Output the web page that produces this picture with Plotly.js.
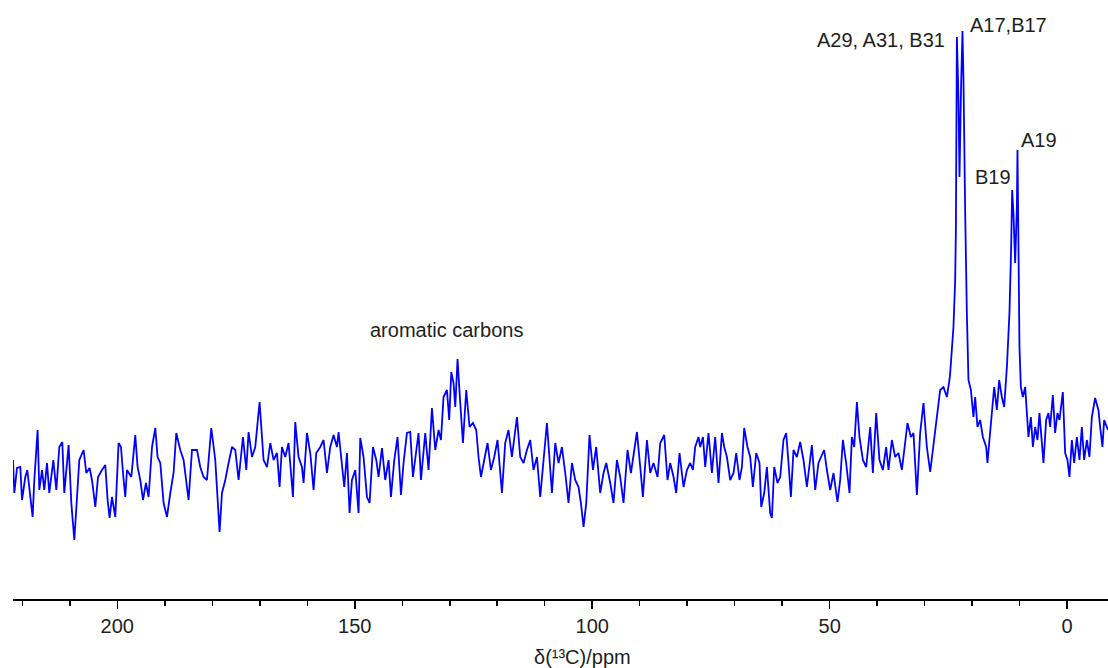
<!DOCTYPE html>
<html>
<head>
<meta charset="utf-8">
<script src="https://cdn.plot.ly/plotly-3.0.1.min.js"></script>
<style>html,body{margin:0;padding:0;background:#fff;}#chart{width:1108px;height:668px;}</style>
</head>
<body>
<div id="chart"></div>
<script>
// Chemical shift (ppm) and intensity (arbitrary units)
var shiftPpm = [
221.96,221.68,221.12,220.42,220.06,219.37,218.95,218.32,217.83,217.47,
216.78,216.42,215.85,215.37,214.80,214.32,213.47,212.84,212.21,211.58,
211.16,210.59,210.25,209.68,209.05,208.48,208.00,207.09,206.53,205.83,
205.33,204.63,204.06,203.22,202.53,202.04,201.62,201.12,200.42,199.73,
199.22,198.80,198.32,197.96,197.05,196.21,195.73,195.16,194.59,193.96,
193.41,192.69,192.00,191.52,190.95,190.25,189.54,188.84,188.15,187.58,
186.74,186.04,184.99,184.27,183.22,182.53,181.83,181.12,180.21,179.37,
178.88,178.46,177.96,177.26,176.57,175.85,175.16,174.46,173.54,172.84,
172.36,171.64,170.95,170.04,169.20,168.48,167.79,167.09,166.38,165.83,
165.33,164.63,163.94,163.01,162.53,161.83,161.12,160.78,160.06,159.37,
158.67,158.11,157.26,156.57,155.85,155.16,154.46,153.75,153.41,152.69,
152.21,151.64,151.09,150.59,149.89,149.20,148.84,148.15,147.43,146.88,
146.17,145.47,144.99,144.27,143.58,142.88,142.38,141.68,140.99,140.27,
139.73,139.01,138.32,137.75,137.05,136.57,136.06,135.16,134.46,133.75,
133.05,132.36,131.85,131.31,130.59,130.11,129.68,129.20,128.84,128.36,
127.79,127.22,126.53,125.83,125.12,124.42,123.94,123.43,122.74,122.04,
121.33,120.63,119.94,119.01,118.32,117.62,116.91,115.85,115.16,114.46,
113.75,113.05,112.36,111.64,110.95,110.25,109.54,108.48,107.79,107.09,
106.38,105.68,104.99,104.27,103.58,102.88,102.38,101.83,101.26,100.57,
99.85,99.16,98.32,97.62,97.05,96.21,95.52,94.80,94.11,93.41,
92.57,91.85,91.31,90.59,89.89,89.33,88.48,87.79,87.09,86.25,
85.68,84.84,84.15,83.58,82.88,82.32,81.62,80.78,80.06,79.37,
78.80,78.32,77.62,
77.26,76.69,76.21,75.52,74.80,74.11,73.41,72.69,72.21,71.64,
70.95,70.25,69.68,68.99,68.48,68.00,67.31,66.74,66.17,65.47,
64.78,64.42,63.79,63.22,62.53,62.17,61.68,60.99,60.42,59.73,
59.16,58.67,58.17,57.62,56.91,56.21,55.52,54.80,54.11,53.75,
53.05,52.36,51.64,51.16,50.59,49.89,49.20,48.36,47.79,47.22,
46.53,45.83,45.33,44.84,44.27,43.73,43.01,42.32,41.47,40.91,
40.21,39.52,38.80,38.11,37.62,36.91,36.21,35.52,34.80,34.11,
33.62,32.91,32.36,31.64,30.95,30.25,29.54,28.84,28.15,27.31,
26.74,26.04,25.33,24.78,
24.63,23.94,23.58,23.43,23.33,23.22,22.88,22.67,22.32,22.04,
21.83,21.62,21.47,21.12,20.78,20.27,19.73,19.37,18.88,18.32,
17.75,17.05,16.78,16.36,15.85,15.37,14.80,14.32,13.75,13.26,
12.69,12.15,11.79,11.58,11.31,10.95,10.59,10.46,10.25,10.04,
9.75,9.33,8.84,8.48,8.15,7.64,7.22,6.74,6.25,5.83,
5.33,4.99,4.42,3.94,3.58,3.01,2.53,2.04,1.62,0.91,
0.42,-0.06,-0.48,-0.99,-1.47,-2.04,-2.59,-3.09,-3.58,-4.15,
-4.69,-5.20,-5.89,-6.59,-6.95,-7.43,-7.79,-8.36,-8.59
];
var intensity = [
139,106,131,132,99,122,129,99,82,119,
169,109,129,109,136,106,139,109,152,157,
106,136,154,96,59,102,139,149,126,131,
119,92,122,129,134,99,81,102,82,156,
152,126,102,129,122,164,132,119,99,116,
102,152,171,142,136,96,82,106,126,166,
149,139,99,149,149,132,122,119,171,139,
102,67,106,119,136,152,149,119,162,129,
167,142,152,197,139,132,156,139,146,112,
152,142,156,102,177,142,132,116,166,146,
109,146,152,159,126,152,164,152,167,132,
112,146,86,119,129,86,161,142,102,96,
152,139,122,151,119,139,102,139,162,104,
136,166,167,122,149,166,119,166,129,191,
149,169,159,202,209,179,227,216,192,240,
196,156,209,172,176,169,142,122,139,156,
129,142,159,106,156,169,142,182,142,136,
149,159,129,142,102,142,176,106,156,136,
152,126,96,136,119,112,96,72,96,164,
129,152,106,126,136,116,96,139,122,96,
149,126,142,167,132,102,159,126,136,122,
156,164,119,136,122,106,146,112,129,136,
129,152,162,
152,162,132,166,126,162,116,166,152,142,
119,126,146,119,132,171,152,142,112,146,
136,92,106,132,86,81,132,116,122,159,
166,136,102,149,142,157,139,112,142,154,
109,136,144,149,129,109,126,97,119,159,
136,106,162,152,197,162,139,132,172,126,
186,139,129,152,129,159,142,146,129,159,
176,162,166,104,166,196,152,127,152,186,
209,212,202,219,
226,272,319,369,447,562,499,422,516,568,
519,399,386,286,219,209,182,202,172,179,
162,152,136,159,186,212,189,219,202,192,
232,286,352,409,386,336,392,449,352,252,
212,202,212,179,162,182,152,172,159,186,
156,136,179,186,172,204,166,186,179,207,
146,139,122,159,136,162,139,172,139,159,
142,182,201,189,172,152,179,172,169
];
var majorTicks = [200, 150, 100, 50, 0];
var peakLabels = ["aromatic carbons", "A29, A31, B31", "A17,B17", "B19", "A19"];
var axisTitle = "δ(¹³C)/ppm";

var fontFam = "Liberation Sans, Arial, Helvetica, sans-serif";
var txtFont = {family: fontFam, size: 20, color: "#1e1e1e"};

var trace = {
  x: shiftPpm,
  y: intensity,
  type: "scatter",
  mode: "lines",
  line: {color: "#0000ff", width: 1.8},
  hoverinfo: "x+y"
};

var layout = {
  width: 1108,
  height: 668,
  margin: {l: 13, r: 0, t: 0, b: 69, pad: 0},
  paper_bgcolor: "#ffffff",
  plot_bgcolor: "#ffffff",
  showlegend: false,
  xaxis: {
    range: [221.96, -8.6],
    showline: true,
    linecolor: "#000",
    linewidth: 1.5,
    ticks: "outside",
    ticklen: 8,
    tickwidth: 1.5,
    tickcolor: "#000",
    tickmode: "array",
    tickvals: majorTicks,
    ticktext: majorTicks.map(String),
    tickfont: txtFont,
    showgrid: false,
    zeroline: false,
    minor: {dtick: 10, tick0: 0, ticks: "outside", ticklen: 5, tickwidth: 1.5, tickcolor: "#000", showgrid: false},
    fixedrange: true
  },
  yaxis: {
    visible: false,
    range: [0, 599],
    fixedrange: true
  },
  annotations: [
    {x: 130.74, y: 269, xref: "x", yref: "y", text: peakLabels[0], showarrow: false, xanchor: "center", yanchor: "middle", font: txtFont},
    {x: 25.26, y: 559, xref: "x", yref: "y", text: peakLabels[1], showarrow: false, xanchor: "right", yanchor: "middle", font: txtFont},
    {x: 20.84, y: 574, xref: "x", yref: "y", text: peakLabels[2], showarrow: false, xanchor: "left", yanchor: "middle", font: txtFont},
    {x: 11.37, y: 422, xref: "x", yref: "y", text: peakLabels[3], showarrow: false, xanchor: "right", yanchor: "middle", font: txtFont},
    {x: 10.1, y: 459, xref: "x", yref: "y", text: peakLabels[4], showarrow: false, xanchor: "left", yanchor: "middle", font: txtFont},
    {x: 0.5205, y: -0.0968, xref: "paper", yref: "paper", text: axisTitle, showarrow: false, xanchor: "center", yanchor: "middle", font: txtFont}
  ]
};

Plotly.newPlot("chart", [trace], layout, {displayModeBar: false, staticPlot: true});
</script>
</body>
</html>
